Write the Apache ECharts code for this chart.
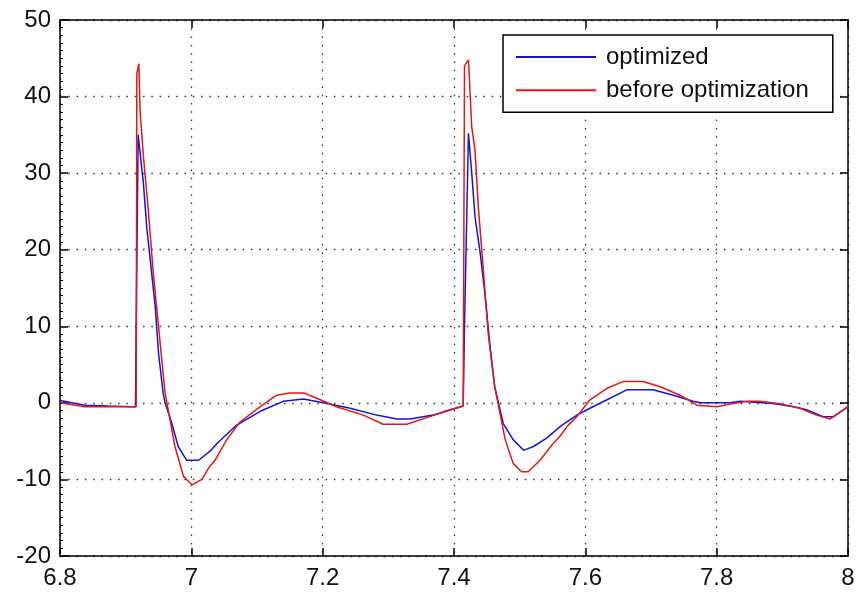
<!DOCTYPE html>
<html>
<head>
<meta charset="utf-8">
<script src="https://cdn.jsdelivr.net/npm/echarts@6/dist/echarts.min.js"></script>
<style>
  html, body { margin: 0; padding: 0; background: #fff; }
  #chart { width: 859px; height: 594px; }
</style>
</head>
<body>
<div id="chart"></div>
<script>
// Time axis ticks and range
const xTicks = [6.8, 7, 7.2, 7.4, 7.6, 7.8, 8];
const yTicks = [-20, -10, 0, 10, 20, 30, 40, 50];

// Optimized response
const optTime = [6.800, 6.838, 6.873, 6.911, 6.915, 6.916, 6.919, 6.927, 6.932, 6.937, 6.945, 6.950,
  6.957, 6.960, 6.970, 6.980, 6.993, 7.001, 7.011, 7.030, 7.039, 7.069, 7.105, 7.140, 7.171, 7.201,
  7.242, 7.282, 7.313, 7.333, 7.368, 7.394, 7.414, 7.416, 7.422, 7.427, 7.432, 7.440, 7.447, 7.455,
  7.462, 7.475, 7.490, 7.506, 7.521, 7.541, 7.563, 7.587, 7.607, 7.633, 7.663, 7.703, 7.734, 7.764,
  7.775, 7.820, 7.836, 7.886, 7.917, 7.937, 7.962, 7.978, 8.000];
const optValue = [0.3, -0.3, -0.4, -0.5, -0.5, 10, 35, 28.7, 23, 19, 12.6, 6.5,
  1.3, 0, -2.6, -5.7, -7.5, -7.5, -7.5, -6.2, -5.3, -2.9, -1.1, 0.2, 0.5, 0,
  -0.7, -1.6, -2.1, -2.1, -1.6, -0.9, -0.4, 10, 35.2, 30, 24.3, 19.5, 14.3, 7.3,
  2.1, -2.7, -4.8, -6.2, -5.7, -4.6, -3.0, -1.6, -0.7, 0.4, 1.7, 1.7, 1.0, 0.2,
  0, 0, 0.2, -0.1, -0.5, -0.9, -1.8, -1.8, -0.5];

// Response before optimization
const befTime = [6.800, 6.838, 6.911, 6.916, 6.917, 6.920, 6.922, 6.927, 6.934, 6.942, 6.950, 6.960,
  6.975, 6.988, 7.001, 7.016, 7.028, 7.036, 7.054, 7.074, 7.105, 7.130, 7.150, 7.171, 7.191, 7.221,
  7.262, 7.292, 7.328, 7.363, 7.414, 7.416, 7.422, 7.427, 7.432, 7.437, 7.445, 7.452, 7.462, 7.478,
  7.490, 7.503, 7.513, 7.531, 7.551, 7.561, 7.572, 7.587, 7.607, 7.633, 7.658, 7.688, 7.714, 7.744,
  7.770, 7.800, 7.825, 7.846, 7.866, 7.896, 7.927, 7.952, 7.973, 8.000];
const befValue = [0.0, -0.5, -0.5, -0.5, 43, 44.3, 38, 32.2, 25.6, 17, 10, 1.3,
  -5.7, -9.6, -10.7, -10, -8.3, -7.5, -4.8, -2.5, -0.5, 1.0, 1.3, 1.3, 0.6, -0.5,
  -1.6, -2.8, -2.8, -1.8, -0.4, 44, 44.8, 36, 33, 25.6, 17, 9.1, 2.1, -4.8,
  -7.9, -9.0, -9.0, -7.5, -5.3, -4.4, -3.1, -1.8, 0.4, 1.9, 2.8, 2.8, 2.1, 1.0,
  -0.3, -0.5, -0.1, 0.2, 0.2, -0.1, -0.7, -1.6, -2.1, -0.5];

const seriesNames = ['optimized', 'before optimization'];
const seriesColors = ['#1414d8', '#e41616'];

const zip = (t, v) => t.map((x, i) => [x, v[i]]);
const FONT = '"Liberation Sans", Arial, sans-serif';
const fmtX = v => String(+(+v).toFixed(1));

const gridDots = { color: '#333', width: 1.3, type: [1.5, 6.8] };
const axisLine = { show: true, onZero: false, lineStyle: { color: '#000', width: 1.5 } };
const tickIn = { show: true, inside: true, length: 8, lineStyle: { color: '#000', width: 1.5 } };

const chart = echarts.init(document.getElementById('chart'), null, { renderer: 'canvas' });
chart.setOption({
  animation: false,
  backgroundColor: '#fff',
  grid: { left: 60, top: 20, right: 11, bottom: 38, containLabel: false },
  legend: {
    orient: 'vertical',
    left: 503, top: 35,
    padding: [10, 24, 10, 13],
    itemGap: 9.3,
    itemWidth: 80, itemHeight: 2,
    icon: 'rect',
    borderColor: '#000', borderWidth: 1.5,
    backgroundColor: '#fff',
    textStyle: { fontFamily: FONT, fontSize: 24, color: '#111', lineHeight: 24, padding: [0, 0, 0, 5] },
    data: seriesNames
  },
  xAxis: [{
    type: 'value', min: xTicks[0], max: xTicks[xTicks.length - 1], interval: 0.2,
    position: 'bottom',
    axisLine, axisTick: tickIn,
    axisLabel: { fontFamily: FONT, fontSize: 24, color: '#111', margin: 10, formatter: fmtX, showMinLabel: true, showMaxLabel: true },
    splitLine: { show: true, lineStyle: gridDots }
  }, {
    type: 'value', min: xTicks[0], max: xTicks[xTicks.length - 1], interval: 0.2,
    position: 'top',
    axisLine, axisTick: tickIn, axisLabel: { show: false }, splitLine: { show: false }
  }],
  yAxis: [{
    type: 'value', min: yTicks[0], max: yTicks[yTicks.length - 1], interval: 10,
    position: 'left',
    axisLine, axisTick: tickIn,
    minorTick: { show: true, splitNumber: 10, length: 3, lineStyle: { color: '#000', width: 1 } },
    axisLabel: { fontFamily: FONT, fontSize: 24, color: '#111', margin: 9, showMinLabel: true, showMaxLabel: true },
    splitLine: { show: true, lineStyle: gridDots }
  }, {
    type: 'value', min: yTicks[0], max: yTicks[yTicks.length - 1], interval: 10,
    position: 'right',
    axisLine, axisTick: tickIn, axisLabel: { show: false }, splitLine: { show: false }
  }],
  series: [{
    name: seriesNames[0], type: 'line', xAxisIndex: 0, yAxisIndex: 0,
    data: zip(optTime, optValue),
    showSymbol: false, symbol: 'none',
    lineStyle: { color: seriesColors[0], width: 1.5 },
    itemStyle: { color: seriesColors[0] }
  }, {
    name: seriesNames[1], type: 'line', xAxisIndex: 0, yAxisIndex: 0,
    data: zip(befTime, befValue),
    showSymbol: false, symbol: 'none',
    lineStyle: { color: seriesColors[1], width: 1.5 },
    itemStyle: { color: seriesColors[1] }
  }]
});
</script>
</body>
</html>
